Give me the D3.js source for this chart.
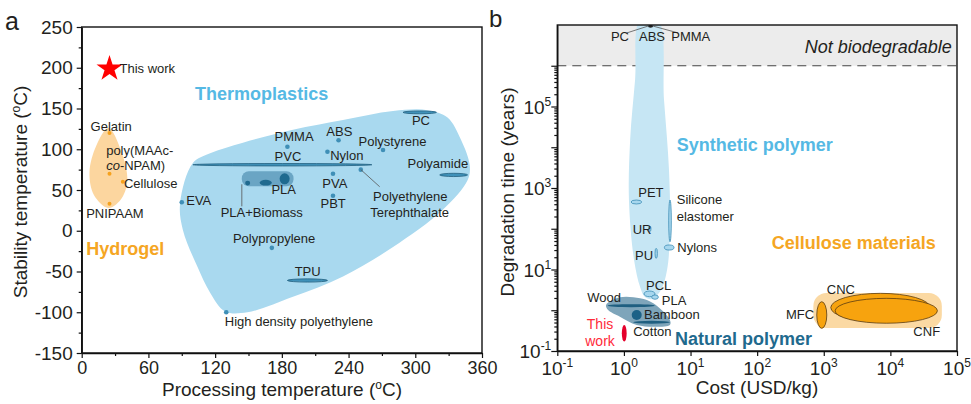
<!DOCTYPE html>
<html>
<head>
<meta charset="utf-8">
<script src="https://cdn.jsdelivr.net/npm/d3@7"></script>
<style type="text/css">
  body{
    margin: 0px;
    background: white;
  }
  text{
    font-family: "Liberation Sans", Arial, Helvetica, sans-serif;
    fill: #231f20;
  }
</style>
</head>
<body>

<svg id="chart" width="971" height="404"></svg>

<script>

// ---------- panel a : processing vs stability temperature ----------
var aXTicks = [0, 60, 120, 180, 240, 300, 360];
var aXMinor = [30, 90, 150, 210, 270, 330];
var aYTicks = [-150, -100, -50, 0, 50, 100, 150, 200, 250];
var aYMinor = [-125, -75, -25, 25, 75, 125, 175, 225];

var thisWorkA = [[25, 200]];

var hydrogelHull = [[24,126],[13,104],[7,72],[11,44],[24,28],[35,38],[41,60],[36,96]];
var hydrogelDots = [[25,120],[25,70],[37,60],[25,33]];

var thermoHull = [[100,83],[88.5,34],[91,1],[104,-44],[115.5,-76],[129,-99],[149,-100],[190,-81],
                  [235,-56],[280,-20],[325,26],[347,62],[349,80],[341,112],[329,139],[311,148],
                  [280,147],[235,136],[190,124],[145,108],[115.5,95]];
// EVA, HDPE, polypropylene, PMMA, ABS, nylon, polystyrene, PVA, PBT, PET
var thermoDots = [[90,35],[130,-100],[171,-21],[185,103],[231,111],[221,97],[271,99],[226,70],[226,43],[251,75]];
// ranges [x0, x1, y0, y1] : PVC, PC, polyamide, TPU
var thermoRanges = [[100,261,79.5,82.5],[289,319,143.5,147],[322,347,66.5,70.5],[185,221,-63,-59]];
var plaBox = [144,190.5,54.5,73];
var plaRanges = [[147,151.5,55.5,61.5],[160,171,55.5,62.5],[178,187,57,70.5]];
var aLeaders = [[[251,75],[268,54]], [[144,57],[144,30]]];

var aLabels = [
  ["Gelatin", 8, 123], ["poly(MAAc-", 22, 93], ["Cellulose", 38, 52.5], ["PNIPAAM", 4, 16],
  ["EVA", 94, 32], ["PMMA", 173.5, 110], ["PVC", 173.5, 85.6], ["ABS", 220, 116.3],
  ["Nylon", 223.5, 87.4], ["Polystyrene", 249, 104.6], ["PC", 297, 129.8], ["Polyamide", 293, 76.4],
  ["PVA", 216.4, 52.5], ["PBT", 214.8, 28], ["PLA", 170.6, 45], ["PLA+Biomass", 125, 17],
  ["Polyethylene", 262, 37], ["Terephthalate", 259.5, 17], ["Polypropylene", 136, -15],
  ["TPU", 191.5, -55.5], ["High density polyethylene", 128.7, -117], ["This work", 34, 194]
];

// ---------- panel b : cost vs degradation time ----------
var bXTicks = [0.1, 1, 10, 100, 1e3, 1e4, 1e5];
var bXExp = ["-1", "0", "1", "2", "3", "4", "5"];
var bYMajor = [0.1, 1, 10, 100, 1e3, 1e4, 1e5, 1e6];
var bYLabelTicks = [0.1, 10, 1e3, 1e5];
var bYExp = ["-1", "1", "3", "5"];
var notBioLimit = [1e6, 1e7];

var syntheticHull = [[1.75,1.33e7],[3.25,1.33e7],[4.0,1.45e5],[4.75,2760],[4.92,93],[4.44,9.7],
                     [3.6,3.14],[2.64,1.89],[2.07,2.11],[1.75,3.72],[1.42,17.1],[1.19,508],[1.24,15060],[1.47,4.47e5]];
// PET, UR, PU, silicone elastomer, nylons, PCL, PLA
var syntheticRanges = [[1.28,1.85,405,507],[2.35,2.55,85,117],[2.93,3.18,18.8,33],[4.7,5.15,48,507],
                       [4.05,5.65,30,40],[2.0,2.93,2.15,2.96],[2.61,3.29,1.86,2.37]];
var topMark = [2.3, 2.74, 8.6e6, 1e7];
var bLeaders = [[[1.11,6.4e6],[2.3,9.4e6]], [[6.5,6.4e6],[2.74,9.4e6]]];

var naturalHull = [[0.54,1.35],[0.87,2.08],[1.75,1.96],[2.76,1.48],[4.9,0.58],[4.9,0.435],
                   [3.1,0.395],[1.56,0.435],[0.87,0.695],[0.58,1.01]];
// wood, cotton
var naturalRanges = [[0.57,2.9,1.19,1.41],[1.38,4.9,0.465,0.55]];
var bambooRange = [1.31,1.85,0.58,1.01];
var thisWorkB = [0.93,1.1,0.17,0.435];

var celluloseBox = [698, 59200, 0.366, 2.65];
// MFC, CNC, CNF
var celluloseRanges = [[785,1110,0.36,1.62],[1274,39400,0.52,2.6],[1480,50800,0.48,1.96]];

var bLabels = [
  ["PC", 0.873, 3.94e6, "middle"], ["ABS", 2.64, 3.94e6, "middle"], ["PMMA", 10.07, 3.94e6, "middle"],
  ["PET", 1.64, 594], ["UR", 1.355, 76.4], ["PU", 1.47, 17.3], ["Silicone", 6.21, 394],
  ["elastomer", 6.21, 159], ["Nylons", 6.34, 27.2], ["PCL", 2.15, 3.23], ["PLA", 3.7, 1.38],
  ["Wood", 0.282, 1.61], ["Bamboon", 2.0, 0.593], ["Cotton", 1.38, 0.231],
  ["CNC", 1109, 2.44], ["MFC", 715, 0.593, "end"], ["CNF", 22130, 0.231]
];

var svg = d3.select("#chart");

var xA = d3.scaleLinear().domain([0, 360]).range([81.7, 482]);
var yA = d3.scaleLinear().domain([-150, 250]).range([353, 27]);
var xB = d3.scaleLog().domain([0.1, 1e5]).range([557.3, 957]);
var yB = d3.scaleLog().domain([0.1, 1e7]).range([351, 25]);

function ellipses(g, data, sx, sy) {
  return g.selectAll(null)
    .data(data)
    .enter()
    .append("ellipse")
    .attr("cx", function(d) { return (sx(d[0]) + sx(d[1])) / 2; })
    .attr("cy", function(d) { return (sy(d[2]) + sy(d[3])) / 2; })
    .attr("rx", function(d) { return Math.abs(sx(d[1]) - sx(d[0])) / 2; })
    .attr("ry", function(d) { return Math.abs(sy(d[3]) - sy(d[2])) / 2; });
}

function hull(sx, sy) {
  return d3.line()
    .x(function(d) { return sx(d[0]); })
    .y(function(d) { return sy(d[1]); })
    .curve(d3.curveCatmullRomClosed.alpha(0.5));
}

function labels(g, data, sx, sy, size) {
  g.selectAll(null)
    .data(data)
    .enter()
    .append("text")
    .attr("x", function(d) { return sx(d[1]); })
    .attr("y", function(d) { return sy(d[2]); })
    .attr("text-anchor", function(d) { return d[3] || "start"; })
    .style("font-size", size + "px")
    .text(function(d) { return d[0]; });
}

function leaders(g, data, sx, sy) {
  g.selectAll(null)
    .data(data)
    .enter()
    .append("line")
    .attr("x1", function(d) { return sx(d[0][0]); })
    .attr("y1", function(d) { return sy(d[0][1]); })
    .attr("x2", function(d) { return sx(d[1][0]); })
    .attr("y2", function(d) { return sy(d[1][1]); })
    .attr("stroke", "#555")
    .attr("stroke-width", 0.8);
}

// ================= panel a =================
var ga = svg.append("g");

ga.append("path")
  .datum(thermoHull)
  .attr("d", hull(xA, yA))
  .attr("fill", "#a9d9ef");

ga.append("path")
  .datum(hydrogelHull)
  .attr("d", hull(xA, yA))
  .attr("fill", "#fcd69f");

ga.selectAll(null).data(hydrogelDots).enter().append("circle")
  .attr("cx", function(d) { return xA(d[0]); })
  .attr("cy", function(d) { return yA(d[1]); })
  .attr("r", 2)
  .attr("fill", "#f6a21d");

ga.append("rect")
  .attr("x", xA(plaBox[0]))
  .attr("y", yA(plaBox[3]))
  .attr("width", xA(plaBox[1]) - xA(plaBox[0]))
  .attr("height", yA(plaBox[2]) - yA(plaBox[3]))
  .attr("rx", 7)
  .attr("fill", "#6aa5c4");

ellipses(ga, plaRanges, xA, yA)
  .attr("fill", "#1f6a8f");

ellipses(ga, thermoRanges, xA, yA)
  .attr("fill", "#3f91b9")
  .attr("stroke", "#22607f")
  .attr("stroke-width", 0.8);

ga.selectAll(null).data(thermoDots).enter().append("circle")
  .attr("cx", function(d) { return xA(d[0]); })
  .attr("cy", function(d) { return yA(d[1]); })
  .attr("r", 2.3)
  .attr("fill", "#3f8fb7");

leaders(ga, aLeaders, xA, yA);

ga.selectAll(null).data(thisWorkA).enter().append("path")
  .attr("transform", function(d) { return "translate(" + xA(d[0]) + "," + (yA(d[1]) + 1) + ")"; })
  .attr("d", d3.symbol().type(d3.symbolStar).size(210))
  .attr("fill", "#ff0000");

labels(ga, aLabels, xA, yA, 13);

var coText = ga.append("text")
  .attr("x", xA(22))
  .attr("y", yA(74.5))
  .style("font-size", "13px");
coText.append("tspan").style("font-style", "italic").text("co");
coText.append("tspan").text("-NPAM)");

ga.append("text")
  .attr("x", xA(102)).attr("y", yA(160))
  .style("font-size", "18px").style("font-weight", "bold").style("fill", "#55b9e4")
  .text("Thermoplastics");

ga.append("text")
  .attr("x", xA(4)).attr("y", yA(-30))
  .style("font-size", "18px").style("font-weight", "bold").style("fill", "#f5a623")
  .text("Hydrogel");

// axes a
ga.append("g").attr("class", "xaxis").attr("transform", "translate(0," + yA(-150) + ")")
  .call(d3.axisBottom(xA).tickValues(aXTicks).tickSizeInner(5).tickSizeOuter(0).tickPadding(3)
    .tickFormat(function(d) { return String(d); }));
ga.append("g").attr("transform", "translate(0," + yA(-150) + ")")
  .call(d3.axisBottom(xA).tickValues(aXMinor).tickSize(3).tickFormat(""))
  .select(".domain").remove();
ga.append("g").attr("transform", "translate(" + xA(0) + ",0)")
  .call(d3.axisLeft(yA).tickValues(aYTicks).tickSizeInner(5).tickSizeOuter(0).tickPadding(4)
    .tickFormat(function(d) { return String(d); }));
ga.append("g").attr("transform", "translate(" + xA(0) + ",0)")
  .call(d3.axisLeft(yA).tickValues(aYMinor).tickSize(3).tickFormat(""))
  .select(".domain").remove();

ga.append("rect")
  .attr("x", xA(0)).attr("y", yA(250))
  .attr("width", xA(360) - xA(0)).attr("height", yA(-150) - yA(250))
  .attr("fill", "none").attr("stroke", "#111").attr("stroke-width", 1.4);

// ================= panel b =================
var gb = svg.append("g");

gb.append("clipPath").attr("id", "clipB")
  .append("rect")
  .attr("x", xB(0.1)).attr("y", yB(1e7))
  .attr("width", xB(1e5) - xB(0.1)).attr("height", yB(0.1) - yB(1e7));

var pb = gb.append("g").attr("clip-path", "url(#clipB)");

pb.append("rect")
  .attr("x", xB(0.1)).attr("y", yB(notBioLimit[1]))
  .attr("width", xB(1e5) - xB(0.1)).attr("height", yB(notBioLimit[0]) - yB(notBioLimit[1]))
  .attr("fill", "#ececec");

pb.append("line")
  .attr("x1", xB(0.1)).attr("x2", xB(1e5))
  .attr("y1", yB(notBioLimit[0])).attr("y2", yB(notBioLimit[0]))
  .attr("stroke", "#444").attr("stroke-width", 1)
  .attr("stroke-dasharray", "9,6");

pb.append("path")
  .datum(syntheticHull)
  .attr("d", hull(xB, yB))
  .attr("fill", "#c6e6f4");

pb.append("path")
  .datum(naturalHull)
  .attr("d", hull(xB, yB))
  .attr("fill", "#7ea5ba");

pb.append("rect")
  .attr("x", xB(celluloseBox[0]))
  .attr("y", yB(celluloseBox[3]))
  .attr("width", xB(celluloseBox[1]) - xB(celluloseBox[0]))
  .attr("height", yB(celluloseBox[2]) - yB(celluloseBox[3]))
  .attr("rx", 13)
  .attr("fill", "#fbd9a3");

ellipses(pb, syntheticRanges, xB, yB)
  .attr("fill", "#a7d7ee")
  .attr("stroke", "#3c8db5")
  .attr("stroke-width", 0.8);

ellipses(pb, naturalRanges, xB, yB)
  .attr("fill", "#1f5f80");

ellipses(pb, [bambooRange], xB, yB)
  .attr("fill", "#1c6287");

ellipses(pb, [thisWorkB], xB, yB)
  .attr("fill", "#e4002b");

ellipses(pb, celluloseRanges, xB, yB)
  .attr("fill", "#f7a30e")
  .attr("stroke", "#5a3c12")
  .attr("stroke-width", 0.8);

ellipses(pb, [topMark], xB, yB)
  .attr("fill", "#222");

leaders(pb, bLeaders, xB, yB);

labels(gb, bLabels, xB, yB, 13);

var red = gb.append("g");
labels(red, [["This", 0.438, 0.337, "middle"], ["work", 0.438, 0.133, "middle"]], xB, yB, 14);
red.selectAll("text").style("fill", "#ff2a3a");

gb.append("text")
  .attr("x", xB(83500)).attr("y", yB(2.06e6))
  .attr("text-anchor", "end")
  .style("font-size", "18px").style("font-style", "italic")
  .text("Not biodegradable");

gb.append("text")
  .attr("x", xB(6.21)).attr("y", yB(8090))
  .style("font-size", "18px").style("font-weight", "bold").style("fill", "#55b9e4")
  .text("Synthetic polymer");

gb.append("text")
  .attr("x", xB(165.6)).attr("y", yB(31))
  .style("font-size", "18px").style("font-weight", "bold").style("fill", "#f5a623")
  .text("Cellulose materials");

gb.append("text")
  .attr("x", xB(5.85)).attr("y", yB(0.144))
  .style("font-size", "18px").style("font-weight", "bold").style("fill", "#1f6a8e")
  .text("Natural polymer");

// axes b
var minorB = [];
for (var e = -1; e <= 5; e++) {
  for (var k = 2; k <= 9; k++) minorB.push(k * Math.pow(10, e));
}

gb.append("g").attr("transform", "translate(0," + yB(0.1) + ")")
  .call(d3.axisBottom(xB).tickValues(bXTicks).tickSizeInner(5).tickSizeOuter(0).tickFormat(""));
gb.append("g").attr("transform", "translate(" + xB(0.1) + ",0)")
  .call(d3.axisLeft(yB).tickValues(bYMajor).tickSizeInner(6).tickSizeOuter(0).tickFormat(""));
gb.append("g").attr("transform", "translate(" + xB(0.1) + ",0)")
  .call(d3.axisLeft(yB).tickValues(minorB).tickSize(3).tickFormat(""))
  .select(".domain").remove();

var xLab = gb.selectAll(null).data(bXTicks).enter().append("text")
  .attr("x", function(d) { return xB(d); })
  .attr("y", yB(0.1) + 24)
  .attr("text-anchor", "middle")
  .style("font-size", "19px")
  .text("10");
xLab.append("tspan").attr("dy", -8).style("font-size", "12px")
  .text(function(d, i) { return bXExp[i]; });

var yLab = gb.selectAll(null).data(bYLabelTicks).enter().append("text")
  .attr("x", xB(0.1) - 6)
  .attr("y", function(d) { return yB(d) + 7; })
  .attr("text-anchor", "end")
  .style("font-size", "19px")
  .text("10");
yLab.append("tspan").attr("dy", -8).style("font-size", "12px")
  .text(function(d, i) { return bYExp[i]; });

gb.append("rect")
  .attr("x", xB(0.1)).attr("y", yB(1e7))
  .attr("width", xB(1e5) - xB(0.1)).attr("height", yB(0.1) - yB(1e7))
  .attr("fill", "none").attr("stroke", "#111").attr("stroke-width", 1.4);

// axis styling
svg.selectAll(".tick line").attr("stroke", "#111").attr("stroke-width", 1.2);
svg.selectAll(".domain").attr("stroke", "#111").attr("stroke-width", 1.4);
svg.selectAll(".tick text").style("font-size", "19px").attr("fill", "#231f20")
  .style("font-family", "'Liberation Sans', Arial, Helvetica, sans-serif");
svg.selectAll(".xaxis .tick text").style("font-size", "18px");

// titles
function degTitle(g, x, y, rot, pre) {
  var t = g.append("text")
    .attr("transform", "translate(" + x + "," + y + ")" + (rot ? " rotate(-90)" : ""))
    .attr("text-anchor", "middle")
    .style("font-size", "19px");
  t.append("tspan").text(pre + " (");
  t.append("tspan").attr("dy", -7).style("font-size", "12px").text("o");
  t.append("tspan").attr("dy", 7).text("C)");
}
degTitle(svg, 282, 396, false, "Processing temperature");
degTitle(svg, 27, 192, true, "Stability temperature");

svg.append("text").attr("x", 757).attr("y", 394).attr("text-anchor", "middle")
  .style("font-size", "19px").text("Cost (USD/kg)");
svg.append("text").attr("transform", "translate(514,192) rotate(-90)").attr("text-anchor", "middle")
  .style("font-size", "19px").text("Degradation time (years)");

svg.append("text").attr("x", 5).attr("y", 30).style("font-size", "25px").text("a");
svg.append("text").attr("x", 489).attr("y", 27).style("font-size", "24px").text("b");

</script>

</body>
</html>
